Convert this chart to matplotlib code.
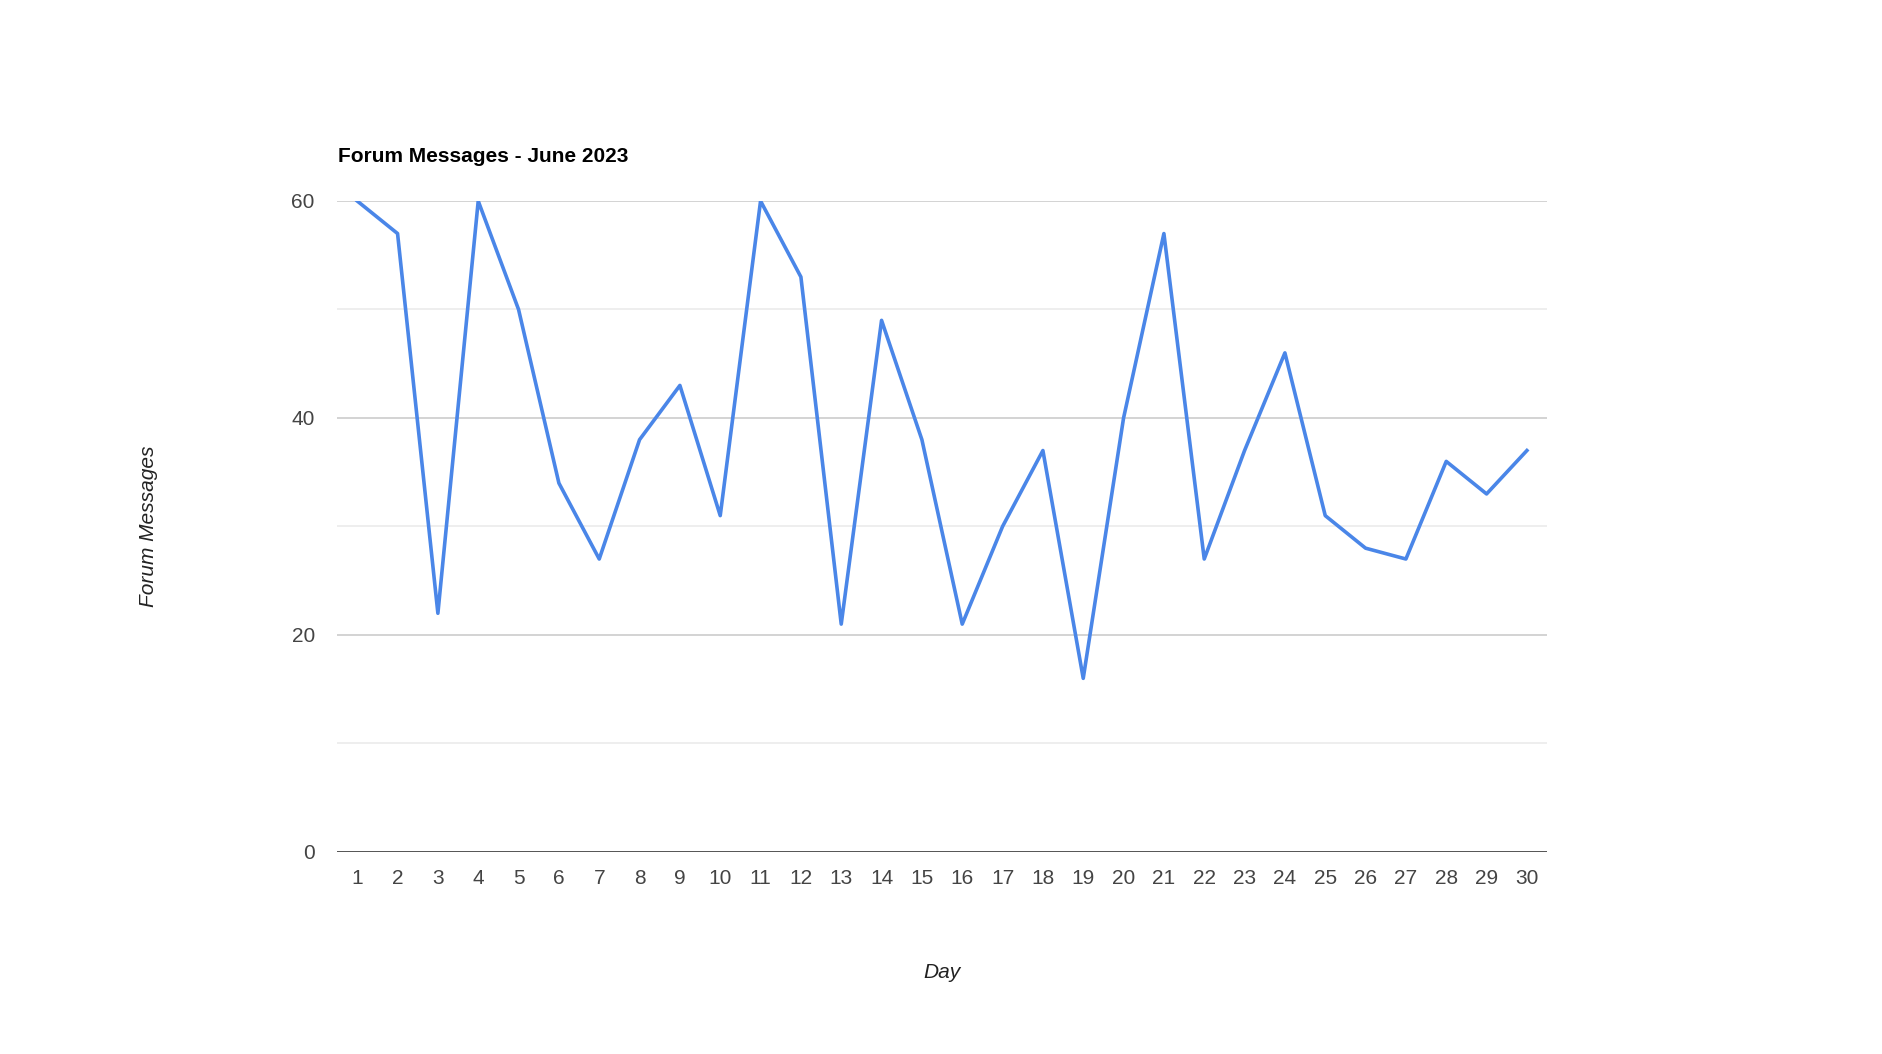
import numpy as np
import matplotlib.pyplot as plt

plt.rcParams['font.family'] = ['Liberation Sans', 'DejaVu Sans']

# Forum messages per day, June 2023
days = list(range(1, 31))
messages = [60, 57, 22, 60, 50, 34, 27, 38, 43, 31,
            60, 53, 21, 49, 38, 21, 30, 37, 16, 40,
            57, 27, 37, 46, 31, 28, 27, 36, 33, 37]
major_ticks = [0, 20, 40, 60]
minor_ticks = [10, 30, 50]

fig = plt.figure(figsize=(18.83, 10.54), dpi=100)
ax = fig.add_axes([0.179, 0.1917, 0.6426, 0.6176])

for y in minor_ticks:
    ax.axhline(y, color='#ebebeb', lw=1.2, zorder=0)
for y in major_ticks[1:]:
    ax.axhline(y, color='#cccccc', lw=1.2, zorder=0)
ax.axhline(0, color='#444444', lw=2, zorder=1)

ax.plot(days, messages, color='#4a86e8', lw=2.6, zorder=3)

ax.set_xlim(0.5, 30.5)
ax.set_ylim(0, 60)
ax.set_xticks(days)
ax.set_yticks(major_ticks)
ax.tick_params(length=0, labelsize=15, colors='#444444')
ax.tick_params(axis='x', pad=12)
ax.tick_params(axis='y', pad=16)
for s in ax.spines.values():
    s.set_visible(False)

fig.text(0.1795, 1 - 156 / 1054, 'Forum Messages - June 2023', fontsize=15,
         fontweight='bold', color='black', va='center', ha='left')
fig.text(0.5003, 1 - 972 / 1054, 'Day', fontsize=15, style='italic',
         color='#222222', ha='center', va='center')
fig.text(149 / 1883, 1 - 526 / 1054, 'Forum Messages', fontsize=15,
         style='italic', color='#222222', rotation=90,
         ha='center', va='center')

plt.savefig('out.png', dpi=100)
